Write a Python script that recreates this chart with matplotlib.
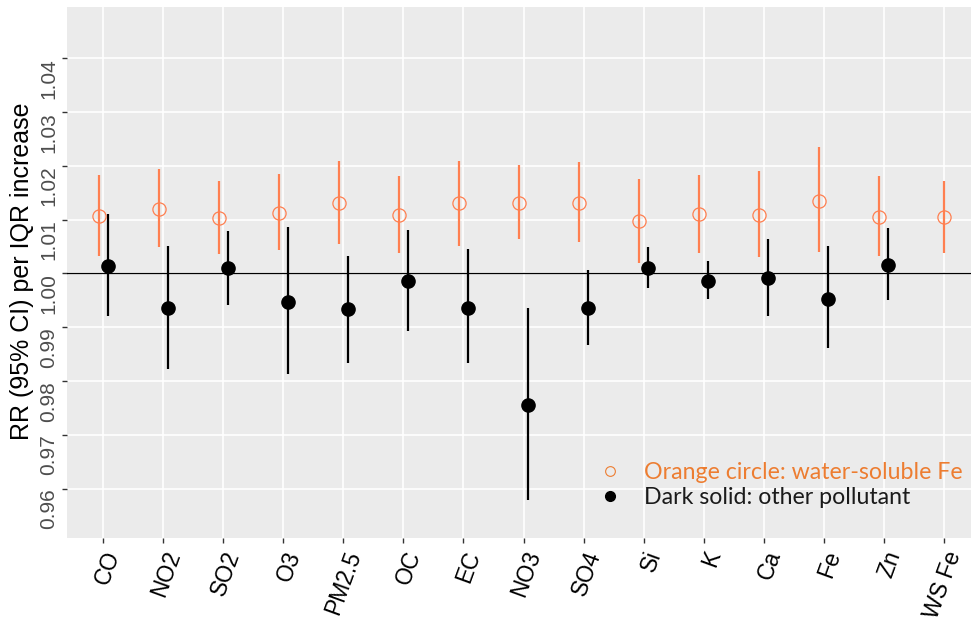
import matplotlib
matplotlib.use("Agg")
import matplotlib.pyplot as plt
from matplotlib.lines import Line2D

# data
categories = ["CO", "NO2", "SO2", "O3", "PM2.5", "OC", "EC", "NO3", "SO4",
              "Si", "K", "Ca", "Fe", "Zn", "WS Fe"]

# orange: water-soluble Fe
ws_fe_rr = [1.0106, 1.0120, 1.0102, 1.0113, 1.0131, 1.0108, 1.0130, 1.0131,
            1.0131, 1.0098, 1.0110, 1.0108, 1.0135, 1.0104, 1.0104]
ws_fe_lo = [1.0032, 1.0048, 1.0035, 1.0044, 1.0054, 1.0037, 1.0050, 1.0063,
            1.0059, 1.0019, 1.0037, 1.0030, 1.0039, 1.0032, 1.0037]
ws_fe_hi = [1.0183, 1.0193, 1.0172, 1.0185, 1.0209, 1.0181, 1.0209, 1.0202,
            1.0207, 1.0176, 1.0183, 1.0191, 1.0234, 1.0180, 1.0172]

# black: other pollutant (none for WS Fe)
other_rr = [1.0013, 0.9936, 1.0009, 0.9947, 0.9933, 0.9985, 0.9936, 0.9755,
            0.9936, 1.0009, 0.9986, 0.9991, 0.9953, 1.0015]
other_lo = [0.9921, 0.9823, 0.9941, 0.9812, 0.9834, 0.9892, 0.9833, 0.9579,
            0.9866, 0.9973, 0.9952, 0.9921, 0.9861, 0.9950]
other_hi = [1.0110, 1.0051, 1.0079, 1.0087, 1.0032, 1.0080, 1.0045, 0.9936,
            1.0007, 1.0049, 1.0023, 1.0063, 1.0051, 1.0084]

y_ticks = [0.96, 0.97, 0.98, 0.99, 1.00, 1.01, 1.02, 1.03, 1.04]

ORANGE = "#FF7F50"
dodge = 0.075

fig = plt.figure(figsize=(9.71, 6.21), dpi=100)
W, H = 971, 621
# panel: left 67px, top 7px, bottom 538px; right side runs past the image edge
ax = fig.add_axes([67 / W, (H - 538) / H, 913 / W, 531 / H])
ax.set_facecolor("#EBEBEB")
for s in ax.spines.values():
    s.set_visible(False)
ax.grid(True, color="white", linewidth=1.2)
ax.set_axisbelow(True)

n = len(categories)
xs = list(range(n))
n_other = len(other_rr)

# orange series (dodged left where a black point exists)
xo = [x - dodge if x < n_other else x for x in xs]
ax.vlines(xo, ws_fe_lo, ws_fe_hi, color=ORANGE, linewidth=1.6, zorder=3)
ax.plot(xo, ws_fe_rr, linestyle="none", marker="o", markersize=9.5,
        markerfacecolor="none", markeredgecolor=ORANGE, markeredgewidth=0.9,
        zorder=4)

# black series
xb = [x + dodge for x in xs[:n_other]]
ax.vlines(xb, other_lo, other_hi, color="black", linewidth=1.6, zorder=3)
ax.plot(xb, other_rr, linestyle="none", marker="o", markersize=9.5,
        color="black", zorder=4)

ax.axhline(1.0, color="black", linewidth=0.9, zorder=2)

ax.set_xlim(-0.6, n - 1 + 0.6)
ax.set_ylim(0.9508, 1.0495)
ax.set_xticks(xs)
ax.set_xticklabels(categories, rotation=70, ha="right", va="top",
                   rotation_mode="anchor", fontsize=16.5, color="black",
                   family="Liberation Sans")
ax.set_yticks(y_ticks)
ax.set_yticklabels([f"{v:.2f}" for v in y_ticks], rotation=90, va="top",
                   ha="right", fontsize=15, color="#4D4D4D",
                   family="Liberation Sans")
ax.tick_params(axis="both", length=3.5, color="#333333", width=1)
ax.tick_params(axis="x", pad=3.5)
ax.tick_params(axis="y", pad=3)

fig.text(22 / W, 1 - 271 / H, "RR (95% CI) per IQR increase", rotation=90,
         ha="center", va="center", fontsize=18, family="Liberation Sans")

handles = [
    Line2D([], [], linestyle="none", marker="o", markersize=7,
           markerfacecolor="none", markeredgecolor="#ED7D31",
           markeredgewidth=0.8),
    Line2D([], [], linestyle="none", marker="o", markersize=7,
           color="black"),
]
leg = ax.legend(handles, ["Orange circle: water-soluble Fe",
                          "Dark solid: other pollutant"],
                loc="upper left", bbox_to_anchor=(596 / W, 1 - 462 / H),
                bbox_transform=fig.transFigure, frameon=False,
                borderpad=0, borderaxespad=0, handlelength=1.2,
                handletextpad=0.85, labelspacing=0.18,
                prop={"family": "Lato", "size": 16.7},
                labelcolor=["#ED7D31", "#1A1A1A"])

fig.savefig("out.png", dpi=100)
